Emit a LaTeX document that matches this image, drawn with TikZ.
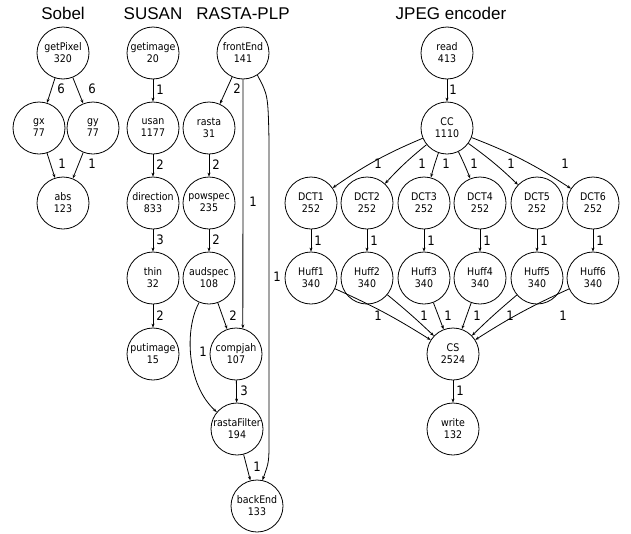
\documentclass[tikz,border=0pt]{standalone}
\usepackage{fontspec}
\newfontfamily\nodefont{DejaVu Sans Condensed}
\newfontfamily\titlefont{Liberation Sans}
\usetikzlibrary{arrows.meta}
\begin{document}
\begin{tikzpicture}[x=1pt,y=-1pt,
  proc/.style={circle,draw,line width=0.8pt,minimum size=52pt,inner sep=0pt,align=center,
    font=\nodefont\fontsize{10.5}{12}\selectfont},
  flow/.style={draw,line width=0.8pt,-{Stealth[length=4pt,width=3pt]}},
  wlab/.style={font=\nodefont\fontsize{13}{13}\selectfont,inner sep=0pt},
  ttl/.style={font=\titlefont\fontsize{17}{17}\selectfont,anchor=base}]
\useasboundingbox (0,0) rectangle (631,533);

% titles
\node[ttl] (tSobel) at (63,19) {Sobel};
\node[ttl] (tSusan) at (153,19) {SUSAN};
\node[ttl] (tRasta) at (243,19) {RASTA-PLP};
\node[ttl] (tJpeg) at (451,19) {JPEG encoder};

% Sobel
\node[proc] (gp) at (63,53) {getPixel\\320};
\node[proc] (gx) at (39,128) {gx\\77};
\node[proc] (gy) at (93,128) {gy\\77};
\node[proc] (abs) at (63,203) {abs\\123};
\draw[flow] (gp) -- (gx);
\draw[flow] (gp) -- (gy);
\draw[flow] (gx) -- (abs);
\draw[flow] (gy) -- (abs);
\node[wlab] (s1) at (61,89) {6};
\node[wlab] (s2) at (92,89) {6};
\node[wlab] (s3) at (62,164) {1};
\node[wlab] (s4) at (92,164) {1};

% SUSAN
\node[proc] (gi) at (153,53) {getimage\\20};
\node[proc] (us) at (153,128) {usan\\1177};
\node[proc] (di) at (153,203) {direction\\833};
\node[proc] (th) at (153,278) {thin\\32};
\node[proc] (pi) at (153,354) {putimage\\15};
\draw[flow] (gi) -- (us);
\draw[flow] (us) -- (di);
\draw[flow] (di) -- (th);
\draw[flow] (th) -- (pi);
\node[wlab] (u1) at (160,90) {1};
\node[wlab] (u2) at (160,165) {2};
\node[wlab] (u3) at (160,240) {3};
\node[wlab] (u4) at (160,316) {2};

% RASTA-PLP
\node[proc] (fe) at (243,53) {frontEnd\\141};
\node[proc] (ra) at (209,128) {rasta\\31};
\node[proc] (ps) at (209,203) {powspec\\235};
\node[proc] (as) at (209,278) {audspec\\108};
\node[proc] (cj) at (236,354) {compjah\\107};
\node[proc] (rf) at (237,429) {rastaFilter\\194};
\node[proc] (be) at (257,506) {backEnd\\133};
\draw[flow] (fe) -- (ra);
\draw[flow] (ra) -- (ps);
\draw[flow] (ps) -- (as);
\draw[flow] (fe.south) -- (cj.75);
\draw[flow] (fe.-57) .. controls (268,95) .. (269,140) -- (269,440) .. controls (269,462) .. (be.78);
\draw[flow] (as) -- (cj);
\draw[flow] (as.-112) .. controls (184,330) and (187,385) .. (rf.140);
\draw[flow] (cj) -- (rf);
\draw[flow] (rf) -- (be);
\node[wlab] (r1) at (237,89) {2};
\node[wlab] (r2) at (216,165) {2};
\node[wlab] (r3) at (216,240) {2};
\node[wlab] (r4) at (253,202) {1};
\node[wlab] (r5) at (277,277) {1};
\node[wlab] (r6) at (233,316) {2};
\node[wlab] (r7) at (203,352) {1};
\node[wlab] (r8) at (244,391) {3};
\node[wlab] (r9) at (257,467) {1};

% JPEG encoder
\node[proc] (rd) at (447,53) {read\\413};
\node[proc] (cc) at (447,128) {CC\\1110};
\foreach \i/\x in {1/311,2/367,3/424,4/480,5/537,6/593}{
  \node[proc] (dct\i) at (\x,203) {DCT\i\\252};
  \node[proc] (hf\i) at (\x,278) {Huff\i\\340};
}
\node[proc] (cs) at (453,354) {CS\\2524};
\node[proc] (wr) at (453,429) {write\\132};
\draw[flow] (rd) -- (cc);
\draw[flow] (cc) to[bend right=6] (dct1);
\draw[flow] (cc) to[bend right=4] (dct2);
\draw[flow] (cc) to[bend right=2] (dct3);
\draw[flow] (cc) to[bend left=2] (dct4);
\draw[flow] (cc) to[bend left=4] (dct5);
\draw[flow] (cc) to[bend left=6] (dct6);
\foreach \i in {1,...,6}{
  \draw[flow] (dct\i) -- (hf\i);
}
\draw[flow] (hf1) to[bend left=4] (cs);
\draw[flow] (hf2) to[bend left=2] (cs);
\draw[flow] (hf3) -- (cs);
\draw[flow] (hf4) -- (cs);
\draw[flow] (hf5) to[bend right=2] (cs);
\draw[flow] (hf6) to[bend right=4] (cs);
\draw[flow] (cs) -- (wr);
\node[wlab] (j0) at (453,90) {1};
\node[wlab] (j1) at (378,164) {1};
\node[wlab] (j2) at (422,164) {1};
\node[wlab] (j3) at (446,164) {1};
\node[wlab] (j4) at (474,164) {1};
\node[wlab] (j5) at (511,164) {1};
\node[wlab] (j6) at (565,164) {1};
\foreach \i/\x in {1/311,2/367,3/424,4/480,5/537,6/593}{
  \node[wlab] (k\i) at (\x+7,241) {1};
}
\node[wlab] (h1) at (378,316) {1};
\node[wlab] (h2) at (424,316) {1};
\node[wlab] (h3) at (448,316) {1};
\node[wlab] (h4) at (477,316) {1};
\node[wlab] (h5) at (510,316) {1};
\node[wlab] (h6) at (563,316) {1};
\node[wlab] (w1) at (460,391) {1};
\end{tikzpicture}
\end{document}
